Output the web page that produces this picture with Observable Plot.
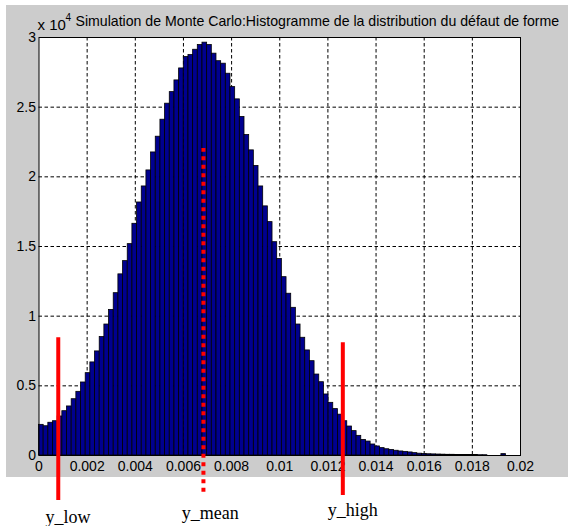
<!DOCTYPE html>
<html>
<head>
<meta charset="utf-8">
<script src="https://cdn.jsdelivr.net/npm/d3@7"></script>
<script src="https://cdn.jsdelivr.net/npm/@observablehq/plot@0.6"></script>
<style>
  html, body { margin: 0; padding: 0; background: white; }
  #chart svg { display: block; }
</style>
</head>
<body>
<div id="chart"></div>
<script>
// Histogram bin heights (units of 10^4 counts), 100 bins starting at 0
const binCounts = [
  0.22, 0.21, 0.235, 0.246, 0.28, 0.318, 0.352, 0.404, 0.457, 0.524,
  0.591, 0.668, 0.747, 0.85, 0.94, 1.045, 1.165, 1.30, 1.395, 1.517,
  1.663, 1.816, 1.931, 2.046, 2.175, 2.288, 2.41, 2.525, 2.608, 2.692,
  2.778, 2.86, 2.874, 2.912, 2.946, 2.963, 2.946, 2.884, 2.83, 2.812,
  2.74, 2.644, 2.556, 2.43, 2.30, 2.19, 2.078, 1.931, 1.788, 1.675,
  1.531, 1.411, 1.28, 1.161, 1.06, 0.94, 0.845, 0.754, 0.677, 0.581,
  0.526, 0.438, 0.378, 0.333, 0.293, 0.246, 0.208, 0.175, 0.141, 0.112,
  0.10, 0.079, 0.065, 0.053, 0.045, 0.040, 0.034, 0.029, 0.026, 0.022,
  0.017, 0.013, 0.011, 0.009, 0.008, 0.007, 0.006, 0.005, 0.005, 0.004,
  0.004, 0.003, 0.003, 0.003, 0.002, 0.002, 0, 0, 0, 0.01
];
const binWidth = 0.000194;

const xTicks = [0, 0.002, 0.004, 0.006, 0.008, 0.01, 0.012, 0.014, 0.016, 0.018, 0.02];
const xTickLabels = ["0", "0.002", "0.004", "0.006", "0.008", "0.01", "0.012", "0.014", "0.016", "0.018", "0.02"];
const yTicks = [0, 0.5, 1, 1.5, 2, 2.5, 3];
const yTickLabels = ["0", "0.5", "1", "1.5", "2", "2.5", "3"];

const markerNames = ["y_low", "y_mean", "y_high"];
const markerX = [0.0008, 0.00683, 0.01262];
const markerTop = [0.845, 2.204, 0.81];
const markerBottom = [-0.323, -0.264, -0.287];
const labelX = [0.0012, 0.00711, 0.01303];
const labelY = [-0.44, -0.413, -0.392];

const titleText = "Simulation de Monte Carlo:Histogramme de la distribution du défaut de forme";
const exponentBase = "x 10";
const exponentPower = "4";

const bins = binCounts.map((c, i) => ({x1: i * binWidth, x2: (i + 1) * binWidth, y: c}));
const markers = markerNames.map((name, i) => ({
  name, x: markerX[i], y1: markerBottom[i], y2: markerTop[i], lx: labelX[i], ly: labelY[i]
}));
const solidMarkers = markers.filter(d => d.name !== "y_mean");
const dottedMarkers = markers.filter(d => d.name === "y_mean");

const chart = Plot.plot({
  width: 568,
  height: 526,
  marginTop: 37,
  marginRight: 48,
  marginBottom: 71,
  marginLeft: 38.5,
  x: {domain: [0, 0.02]},
  y: {domain: [0, 3]},
  style: {fontFamily: "'Liberation Sans', Arial, sans-serif", fontSize: "14px", color: "black"},
  marks: [
    Plot.frame({fill: "white", stroke: "none"}),
    Plot.gridX(xTicks.slice(1, -1), {stroke: "black", strokeOpacity: 1, strokeWidth: 1, strokeDasharray: "3.5,2.5"}),
    Plot.gridY(yTicks.slice(1, -1), {stroke: "black", strokeOpacity: 1, strokeWidth: 1, strokeDasharray: "3.5,2.5"}),
    Plot.rectY(bins, {x1: "x1", x2: "x2", y: "y", fill: "#00008F", stroke: "black", strokeWidth: 0.8, inset: 0}),
    Plot.frame({stroke: "black", strokeWidth: 1}),
    Plot.axisX(xTicks, {tickSize: 0, tickPadding: 6, fontSize: 14, label: null,
      tickFormat: d => xTickLabels[xTicks.indexOf(d)]}),
    Plot.axisY(yTicks, {tickSize: 0, tickPadding: 3, fontSize: 14, label: null,
      tickFormat: d => yTickLabels[yTicks.indexOf(d)]}),
    Plot.ruleX(solidMarkers, {x: "x", y1: "y1", y2: "y2", stroke: "#ff0000", strokeWidth: 4}),
    Plot.ruleX(dottedMarkers, {x: "x", y1: "y1", y2: "y2", stroke: "#ff0000", strokeWidth: 4, strokeDasharray: "4,4.5"}),
    Plot.text(markers, {x: "lx", y: "ly", text: "name", fontFamily: "'Liberation Serif', 'Times New Roman', serif",
      fontSize: 18, fill: "black", textAnchor: "middle"}),
    Plot.text([titleText], {text: d => d, frameAnchor: "top-left", dx: 36.5, dy: -12, textAnchor: "start",
      lineAnchor: "bottom", fontSize: 13.5, fill: "black"}),
    Plot.text([exponentBase], {text: d => d, frameAnchor: "top-left", dx: -1.5, dy: -7.5, textAnchor: "start",
      lineAnchor: "bottom", fontSize: 15, fill: "black"}),
    Plot.text([exponentPower], {text: d => d, frameAnchor: "top-left", dx: 26.5, dy: -17, textAnchor: "start",
      lineAnchor: "bottom", fontSize: 10, fill: "black"})
  ]
});

chart.style.background = "linear-gradient(#cccccc, #cccccc) 6px 5px / 562px 472px no-repeat, white";
document.getElementById("chart").appendChild(chart);
// Fit the title font size so the title spans the same width as in the reference
chart.querySelectorAll("text").forEach(t => {
  if (t.textContent === titleText) {
    const w = t.getComputedTextLength();
    if (w > 0) {
      const fs = Math.min(15.5, 13.5 * 484 / w);
      t.setAttribute("font-size", fs.toFixed(2));
    }
  }
});
</script>
</body>
</html>
